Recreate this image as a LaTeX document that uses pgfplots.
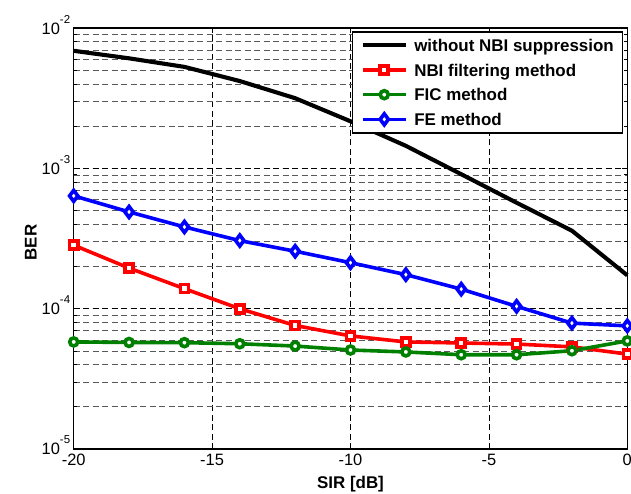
\documentclass[border=0pt]{standalone}
\usepackage{fontspec}
\setmainfont{Liberation Sans}
\usepackage{pgfplots}
\pgfplotsset{compat=1.18}

\definecolor{mred}{rgb}{1,0,0}
\definecolor{mgreen}{rgb}{0,0.5,0}
\definecolor{mblue}{rgb}{0,0,1}

\newcommand\tenp[1]{10\raisebox{11bp}{\fontsize{11.5}{12}\selectfont #1}}

\begin{document}
\begin{tikzpicture}
\begin{axis}[
  name=ax,
  scale only axis,
  width=553.6bp,
  height=420.8bp,
  ymode=log,
  xmin=-20, xmax=0,
  ymin=1e-5, ymax=1e-2,
  xtick={-20,-15,-10,-5,0},
  xticklabels={-20,-15,-10,-5,0},
  ytick={1e-5,1e-4,1e-3,1e-2},
  yticklabels={\tenp{-5},\tenp{-4},\tenp{-3},\tenp{-2}},
  ticklabel style={font=\fontsize{16.5}{19}\selectfont},
  xticklabel style={yshift=-1.3bp},
  yticklabel style={anchor=base east, yshift=-5.9bp},
  major tick length=5bp,
  minor tick length=3bp,
  tick style={black, line width=0.8bp},
  axis line style={line width=1.5bp},
  grid=both,
  major grid style={dash pattern=on 6bp off 3.5bp, black, line width=0.7bp},
  minor grid style={dash pattern=on 6bp off 3.5bp, black!65, line width=0.7bp},
  xlabel={SIR [dB]},
  ylabel={BER},
  label style={font=\bfseries\fontsize{17}{20}\selectfont},
  xlabel style={at={(axis description cs:0.5,0)}, anchor=base, yshift=-39bp},
  ylabel style={at={(axis description cs:0,0.5)}, anchor=base, yshift=37bp, xshift=-4bp},
  clip=false,
  legend cell align=left,
  legend image code/.code={
    \draw[mark repeat=2,mark phase=2] plot coordinates {(0bp,0bp) (21.35bp,0bp) (42.7bp,0bp)};
  },
  legend style={
    at={(rel axis cs:1,1)}, anchor=north east,
    xshift=-4.3bp, yshift=-2.8bp,
    draw=black, line width=1.5bp, fill=white,
    font=\bfseries\fontsize{17}{20}\selectfont,
    inner xsep=8.5bp, inner ysep=5bp,
    row sep=7.7bp, column sep=6.6bp,
    nodes={inner sep=0pt, text height=14.6bp, text depth=2.4bp},
  },
]
\addplot[black, line width=4.1bp, no markers] coordinates {
  (-20,6.9e-3) (-18,6.1e-3) (-16,5.3e-3) (-14,4.2e-3) (-12,3.17e-3) (-10,2.17e-3)
  (-8,1.45e-3) (-6,9.1e-4) (-4,5.7e-4) (-2,3.6e-4) (0,1.73e-4)};
\addplot[mred, line width=3.6bp, mark=square*, mark size=4bp,
  mark options={fill=white, solid}] coordinates {
  (-20,2.84e-4) (-18,1.95e-4) (-16,1.39e-4) (-14,1.00e-4) (-12,7.6e-5) (-10,6.4e-5)
  (-8,5.8e-5) (-6,5.7e-5) (-4,5.6e-5) (-2,5.35e-5) (0,4.75e-5)};
\addplot[mgreen, line width=3.6bp, mark=*, mark size=4bp,
  mark options={fill=white, solid}] coordinates {
  (-20,5.8e-5) (-18,5.75e-5) (-16,5.73e-5) (-14,5.63e-5) (-12,5.42e-5) (-10,5.08e-5)
  (-8,4.92e-5) (-6,4.7e-5) (-4,4.7e-5) (-2,5.02e-5) (0,5.9e-5)};
\addplot[mblue, line width=3.6bp, mark=diamond*, mark size=5.5bp,
  mark options={fill=white, solid}] coordinates {
  (-20,6.38e-4) (-18,4.9e-4) (-16,3.83e-4) (-14,3.06e-4) (-12,2.57e-4) (-10,2.13e-4)
  (-8,1.75e-4) (-6,1.38e-4) (-4,1.04e-4) (-2,7.9e-5) (0,7.55e-5)};
\legend{without NBI suppression, NBI filtering method, FIC method, FE method}
\end{axis}
\pgfresetboundingbox
\path ([xshift=-73.7bp,yshift=-45bp]ax.south west) rectangle ([xshift=3.7bp,yshift=28.2bp]ax.north east);
\end{tikzpicture}
\end{document}
